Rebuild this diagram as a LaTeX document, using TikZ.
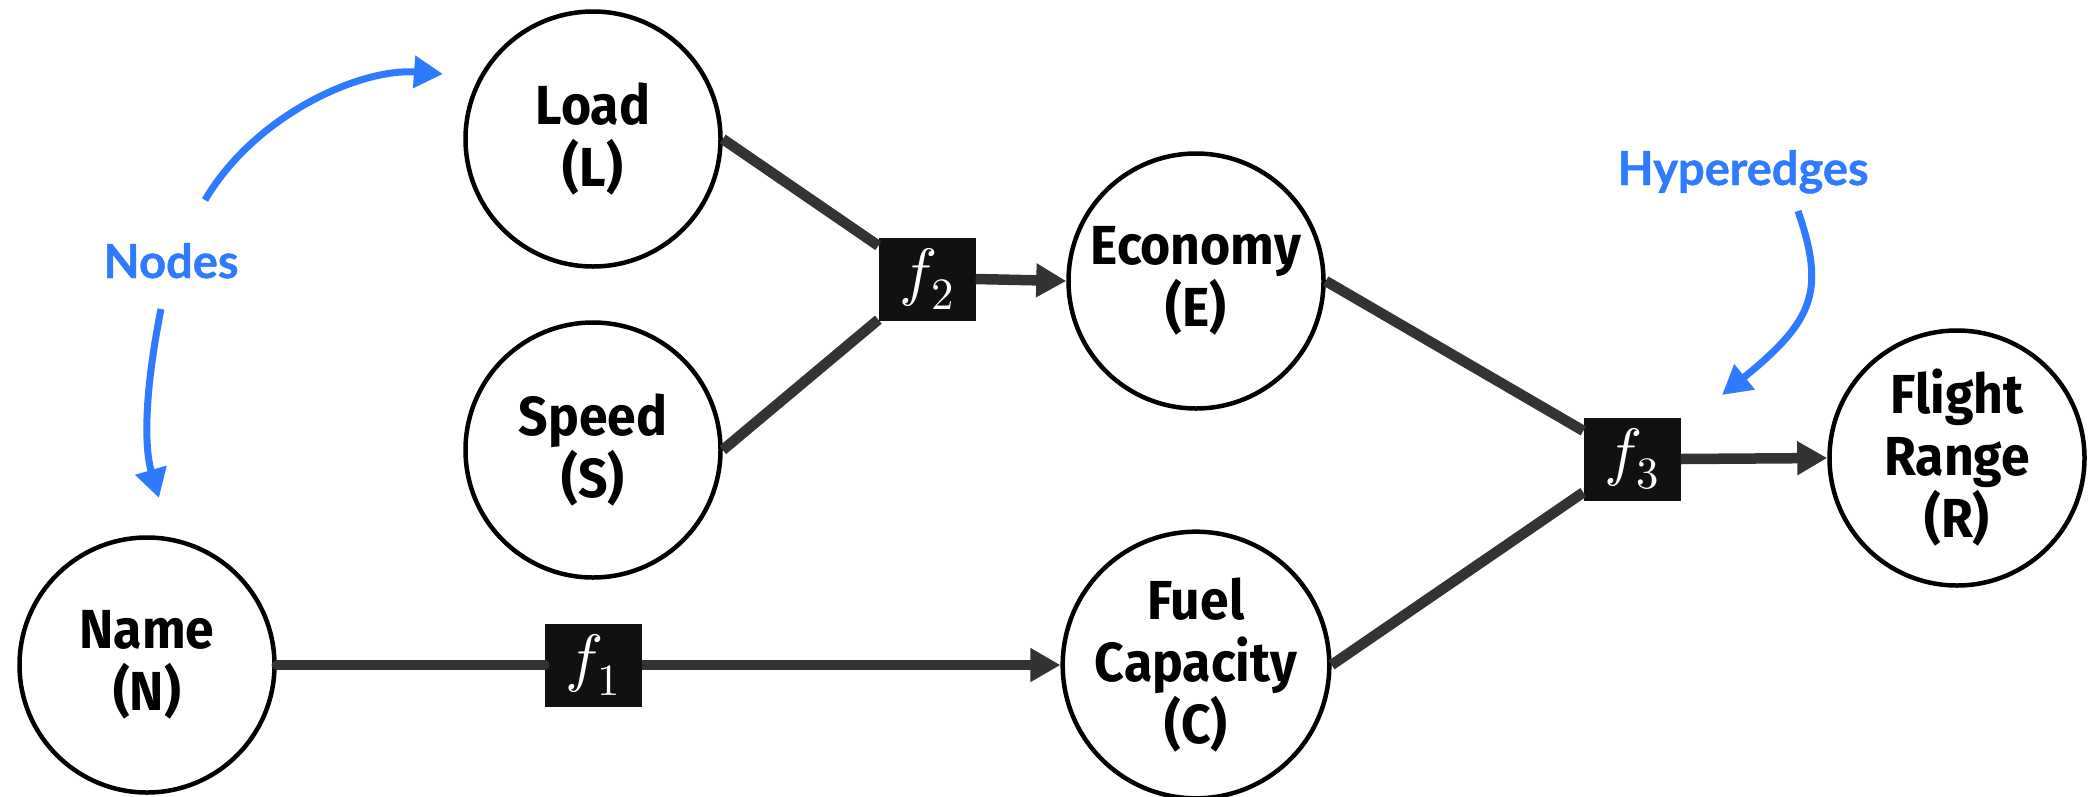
\documentclass[tikz,border=0pt]{standalone}
\usepackage{fontspec}
\usepackage{unicode-math}
\setmainfont{Fira Sans}
\setmathfont{Latin Modern Math}
\newfontfamily\labelfont[FakeStretch=0.94]{Fira Sans}
\newfontfamily\notefont[FakeBold=1]{Lato}
\usetikzlibrary{arrows.meta}
\definecolor{edgegray}{HTML}{333333}
\definecolor{boxblack}{HTML}{111111}
\definecolor{noteblue}{HTML}{2F7BFF}
\begin{document}
\begin{tikzpicture}[x=1pt,y=-1pt,
  vnode/.style={circle, draw=black, line width=4.5pt, minimum size=255pt, inner sep=0pt,
    align=center, fill=white, font=\labelfont\bfseries\fontsize{55}{62}\selectfont},
  hbox/.style={fill=boxblack, minimum width=97pt, minimum height=83pt, inner sep=0pt,
    text=white, font=\fontsize{64}{70}\selectfont},
  edgeline/.style={draw=edgegray, line width=10.5pt},
  arr/.style={edgeline, -{Triangle[length=30pt,width=32pt]}},
  note/.style={text=noteblue, anchor=base, font=\notefont\bfseries\fontsize{47}{56}\selectfont},
  pointer/.style={draw=noteblue, line width=7pt, -{Triangle[length=29pt,width=31pt]}}]
\fill[white] (0,0) rectangle (2090,796);
\useasboundingbox (0,0) rectangle (2090,796);

% variable nodes
\node[vnode] (load) at (593,139) {Load\\(L)};
\node[vnode] (speed) at (593,450) {Speed\\(S)};
\node[vnode] (name) at (147,665) {Name\\(N)};
\node[vnode] (economy) at (1196,281) {Economy\\(E)};
\node[vnode] (fuel) at (1196,665) {Fuel\\Capacity\\(C)};
\node[vnode] (flight) at (1957,458) {Flight\\Range\\(R)};

% hyperedge boxes
\node[hbox] (f1) at (593,665) {$f_1$};
\node[hbox] (f2) at (927,279) {$f_2$};
\node[hbox] (f3) at (1632,459) {$f_3$};

% connectors
\draw[edgeline, line cap=round] (name.east) -- (f1.west);
\draw[arr] (f1.east) -- (fuel.west);
\draw[edgeline] (load.east) -- (f2);
\draw[edgeline] (speed.east) -- (f2);
\draw[arr] (f2.east) -- (economy.west);
\draw[edgeline] (economy.east) -- (f3);
\draw[edgeline] (fuel.east) -- (f3);
\draw[arr] (f3.east) -- (flight.west);

% annotations
\node[note] (nodesnote) at (171,278) {Nodes};
\node[note] (hypernote) at (1743,185) {Hyperedges};
\coordinate (p1s) at (205,200);
\coordinate (p1e) at (443,74);
\coordinate (p2s) at (161,309);
\coordinate (p2e) at (159,498);
\coordinate (p3s) at (1798,211);
\coordinate (p3e) at (1722,395);
\draw[pointer] (p1s) .. controls (255,115) and (360,68) .. (p1e);
\draw[pointer] (p2s) .. controls (143,400) and (145,450) .. (p2e);
\draw[pointer] (p3s) .. controls (1825,290) and (1815,320) .. (p3e);
\end{tikzpicture}
\end{document}
